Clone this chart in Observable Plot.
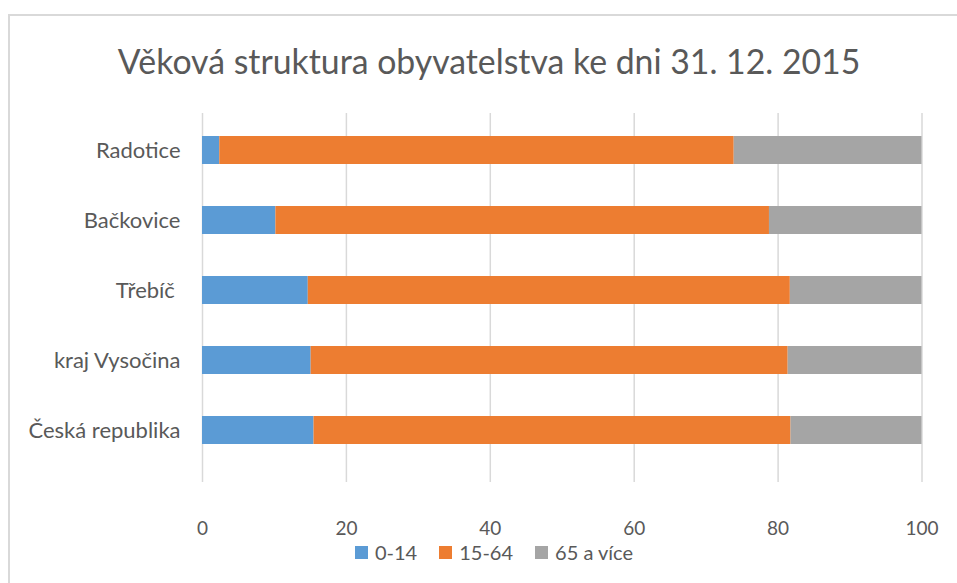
<!DOCTYPE html>
<html>
<head>
<meta charset="utf-8">
<script src="https://cdn.jsdelivr.net/npm/d3@7"></script>
<script src="https://cdn.jsdelivr.net/npm/@observablehq/plot@0.6"></script>
<style>
  body { margin: 0; background: #fff; }
  #wrap { position: relative; width: 957px; height: 583px; overflow: hidden; font-family: Lato, "Open Sans", sans-serif; color: #595959; }
  #borderL { position: absolute; left: 8px; top: 14px; width: 2px; height: 600px; background: #d9d9d9; }
  #borderT { position: absolute; left: 8px; top: 14px; width: 960px; height: 2px; background: #d9d9d9; }
  #title { position: absolute; left: 0; width: 978px; top: 38px; text-align: center; font-size: 33.8px; line-height: 46px; white-space: nowrap; }
  #legend { position: absolute; left: 0; width: 988px; top: 540px; display: flex; justify-content: center; gap: 22px; font-size: 20px; line-height: 24px; }
  #legend span.item { display: inline-flex; align-items: center; gap: 7px; }
  #legend span.sw { display: inline-block; width: 13px; height: 13px; }
  #chart { position: absolute; left: 0; top: 0; }
</style>
</head>
<body>
<div id="wrap">
  <div id="borderL"></div>
  <div id="borderT"></div>
  <div id="chart"></div>
  <div id="title">Věková struktura obyvatelstva ke dni 31. 12. 2015</div>
  <div id="legend"></div>
</div>
<script>
const categories = ["Radotice", "Bačkovice", "Třebíč ", "kraj Vysočina", "Česká republika"];
const seriesNames = ["0-14", "15-64", "65 a více"];
const seriesColors = ["#5B9BD5", "#ED7D31", "#A5A5A5"];
const age0_14  = [2.4, 10.2, 14.7, 15.1, 15.5];
const age15_64 = [71.5, 68.6, 67.0, 66.3, 66.3];
const age65    = [26.1, 21.2, 18.3, 18.6, 18.2];
const xTicks = [0, 20, 40, 60, 80, 100];

const seriesValues = [age0_14, age15_64, age65];
const data = [];
categories.forEach((c, i) => {
  seriesNames.forEach((s, j) => data.push({cat: c, series: s, value: seriesValues[j][i]}));
});

const chart = Plot.plot({
  width: 957,
  height: 583,
  marginTop: 113,
  marginBottom: 101,
  marginLeft: 202,
  marginRight: 35.5,
  style: {fontFamily: "Lato, 'Open Sans', sans-serif", color: "#595959", background: "transparent"},
  x: {domain: [0, 100], ticks: xTicks},
  y: {domain: categories, paddingInner: 0.6, paddingOuter: 0.3, insetBottom: 14.7},
  color: {domain: seriesNames, range: seriesColors},
  marks: [
    Plot.ruleX(xTicks, {stroke: "#d9d9d9", strokeWidth: 1.5}),
    Plot.barX(data, Plot.stackX({x: "value", y: "cat", fill: "series"})),
    Plot.axisX({ticks: xTicks, tickSize: 0, tickPadding: 39, fontSize: 19, fill: "#595959", label: null}),
    Plot.axisY({tickSize: 0, tickPadding: 22, fontSize: 22, fill: "#595959", label: null})
  ]
});
document.getElementById("chart").appendChild(chart);

const legend = document.getElementById("legend");
seriesNames.forEach((s, j) => {
  const item = document.createElement("span");
  item.className = "item";
  const sw = document.createElement("span");
  sw.className = "sw";
  sw.style.background = seriesColors[j];
  const t = document.createElement("span");
  t.textContent = s;
  item.appendChild(sw);
  item.appendChild(t);
  legend.appendChild(item);
});
</script>
</body>
</html>
